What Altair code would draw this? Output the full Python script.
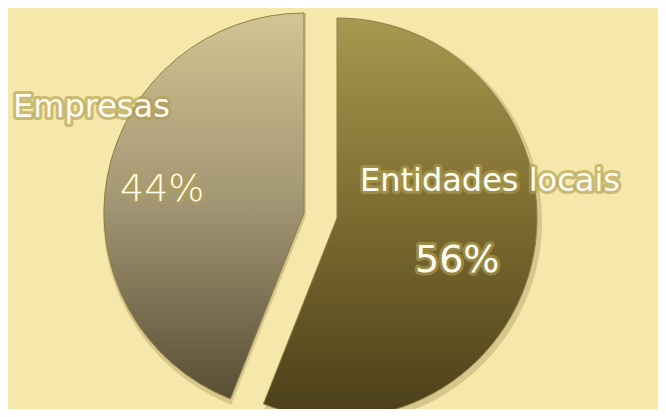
import math
import altair as alt
import pandas as pd

# ---- data ----
categories = ["Entidades locais", "Empresas"]
values = [56, 44]

total = sum(values)
starts, ends = [], []
acc = 0
for v in values:
    starts.append(acc)
    acc += v
    ends.append(acc)

df = pd.DataFrame({
    "category": categories,
    "value": values,
    "start": starts,
    "end": ends,
    "pct": [f"{v}%" for v in values],
})

base = alt.Chart(df)
theta_scale = alt.Scale(domain=[0, total], range=[0, 2 * math.pi])

def grad(stops):
    return alt.LinearGradient(
        gradient="linear", x1=0, y1=0, x2=0, y2=1,
        stops=[alt.GradientStop(offset=o, color=c) for o, c in stops],
    )

grad_ent = grad([(0, "#a9984f"), (0.5, "#7c6b2f"), (1, "#4b3f1a")])
grad_emp = grad([(0, "#d2c493"), (0.5, "#a29573"), (1, "#584e34")])

def slice_layers(cat, cx, cy, g):
    b = base.transform_filter(alt.datum.category == cat)
    enc = dict(
        theta=alt.Theta("start:Q", scale=theta_scale),
        theta2="end:Q",
    )
    shadow = b.mark_arc(radius=203, fill="#8a7838", opacity=0.28).encode(
        x=alt.value(cx + 2), y=alt.value(cy + 3), **enc)
    arc = b.mark_arc(radius=200, fill=g, stroke="#8f7f48", strokeWidth=1).encode(
        x=alt.value(cx), y=alt.value(cy), **enc)
    return [shadow, arc]

def label_layers(cat, field, x, y, size, weight):
    b = base.transform_filter(alt.datum.category == cat)
    common = dict(font="DejaVu Sans", fontSize=size, fontWeight=weight, align="left",
                  baseline="alphabetic")
    glow = b.mark_text(fill="#b0a055", stroke="#b0a055", strokeWidth=6,
                       strokeOpacity=0.7, strokeJoin="round", opacity=0.9, **common).encode(
        text=alt.Text(f"{field}:N"), x=alt.value(x), y=alt.value(y))
    txt = b.mark_text(fill="#fffdf2", **common).encode(
        text=alt.Text(f"{field}:N"), x=alt.value(x), y=alt.value(y))
    return [glow, txt]

layers = []
layers += slice_layers("Empresas", 296, 205, grad_emp)
layers += slice_layers("Entidades locais", 329, 210, grad_ent)
layers += label_layers("Empresas", "category", 5, 109, 32, 400)
layers += label_layers("Empresas", "pct", 112, 193, 38, 200)
layers += label_layers("Entidades locais", "category", 352, 183, 32, 400)
layers += label_layers("Entidades locais", "pct", 407, 264, 38, 400)

chart = alt.layer(*layers).properties(
    width=650, height=401,
    autosize=alt.AutoSizeParams(type="fit", contains="padding"),
    padding=0,
    background="#f6e7aa",
).configure_view(stroke=None)

chart.save("out.html", embed_options={"renderer": "svg", "actions": False})
